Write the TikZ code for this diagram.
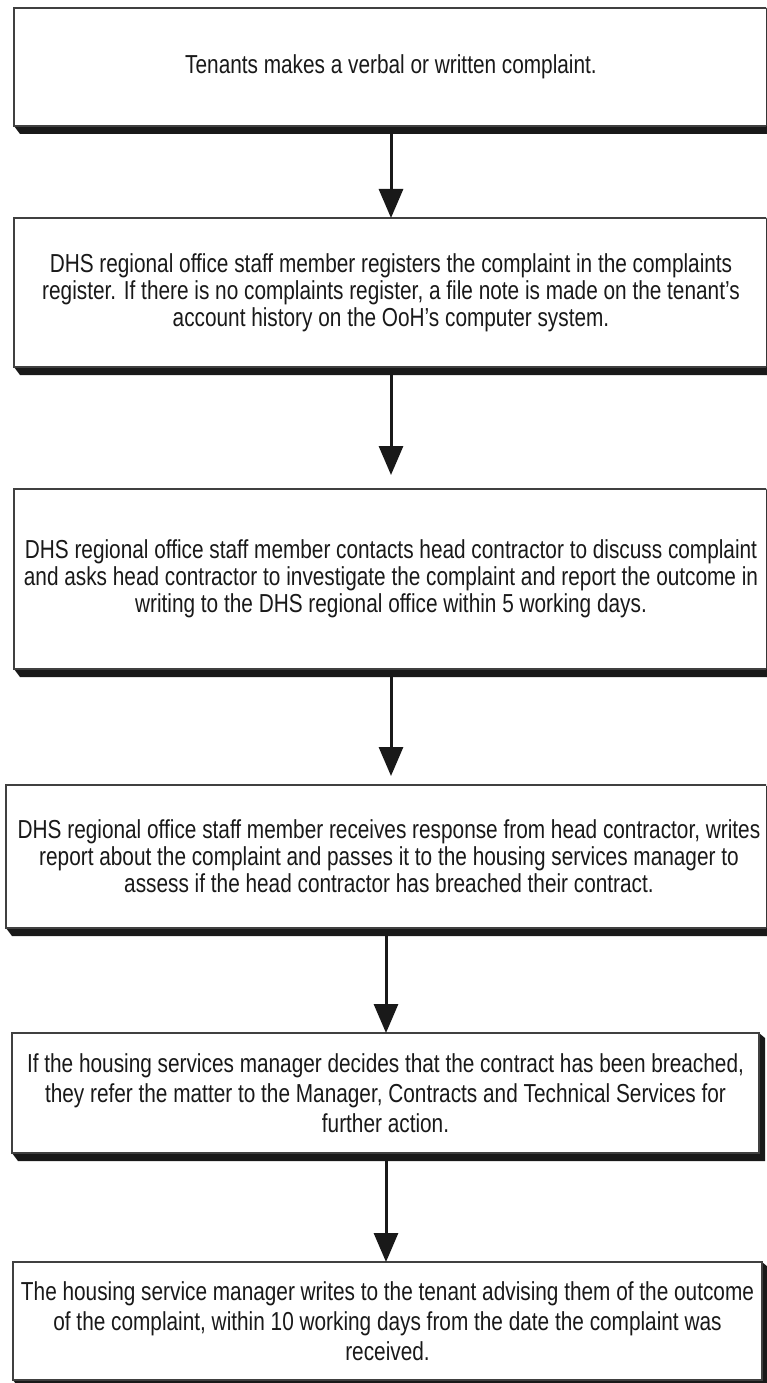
\documentclass[tikz,border=0pt]{standalone}
\usepackage{fontspec}
\setmainfont{Liberation Sans}[FakeStretch=0.80]
\usetikzlibrary{arrows.meta,calc,backgrounds}
\begin{document}
\begin{tikzpicture}[x=1pt,y=-1pt,
  box/.style={draw=black!75, line width=1.3pt, fill=white, rectangle, inner sep=0pt, outer sep=0pt,
    align=center, font=\fontsize{26}{27}\selectfont, text=black!90},
  loose/.style={font=\fontsize{26}{30}\selectfont},
  arr/.style={line width=3pt, draw=black!90, -{Triangle[width=24pt,length=29pt]}},
  shadowfill/.style={fill=black!90}]
\useasboundingbox (0,0) rectangle (766,1383);
\clip (0,0) rectangle (766,1383);

\coordinate (c1) at (391,0);
\coordinate (c2) at (386,0);

\node[box, minimum width=754pt, minimum height=118pt] (b1) at (391,67)
  {Tenants makes a verbal or written complaint.};
\node[box, minimum width=754pt, minimum height=149pt] (b2) at (391,292.5)
  {DHS regional office staff member registers the complaint in the complaints\\
   register. If there is no complaints register, a file note is made on the tenant's\\
   account history on the OoH's computer system.};
\node[box, minimum width=754pt, minimum height=180pt] (b3) at (391,579)
  {DHS regional office staff member contacts head contractor to discuss complaint\\
   and asks head contractor to investigate the complaint and report the outcome in\\
   writing to the DHS regional office within 5 working days.};
\node[box, minimum width=766pt, minimum height=143pt] (b4) at (389,856.5)
  {DHS regional office staff member receives response from head contractor, writes\\
   report about the complaint and passes it to the housing services manager to\\
   assess if the head contractor has breached their contract.};
\node[box, loose, minimum width=747pt, minimum height=120pt] (b5) at (385.5,1093)
  {If the housing services manager decides that the contract has been breached,\\
   they refer the matter to the Manager, Contracts and Technical Services for\\
   further action.};
\node[box, loose, minimum width=749pt, minimum height=118pt] (b6) at (387.5,1321)
  {The housing service manager writes to the tenant advising them of the outcome\\
   of the complaint, within 10 working days from the date the complaint was\\
   received.};

\begin{scope}[on background layer]
  \fill[white] (0,0) rectangle (766,1383);
  \foreach \b in {b1,b2,b3,b4,b5,b6}{
    \fill[shadowfill] (\b.south west) -- ++(6,8) -- ($(\b.south east)+(6,8)$)
      -- ($(\b.north east)+(6,5)$) -- (\b.north east) -- cycle;
  }
\end{scope}

\draw[arr] ($(b1.south -| c1)+(0,8)$) -- (b2.north -| c1);
\draw[arr] ($(b2.south -| c1)+(0,8)$) -- ($(b3.north -| c1)+(0,-14)$);
\draw[arr] ($(b3.south -| c1)+(0,8)$) -- ($(b4.north -| c1)+(0,-9)$);
\draw[arr] ($(b4.south -| c2)+(0,8)$) -- (b5.north -| c2);
\draw[arr] ($(b5.south -| c2)+(0,8)$) -- (b6.north -| c2);
\end{tikzpicture}
\end{document}
